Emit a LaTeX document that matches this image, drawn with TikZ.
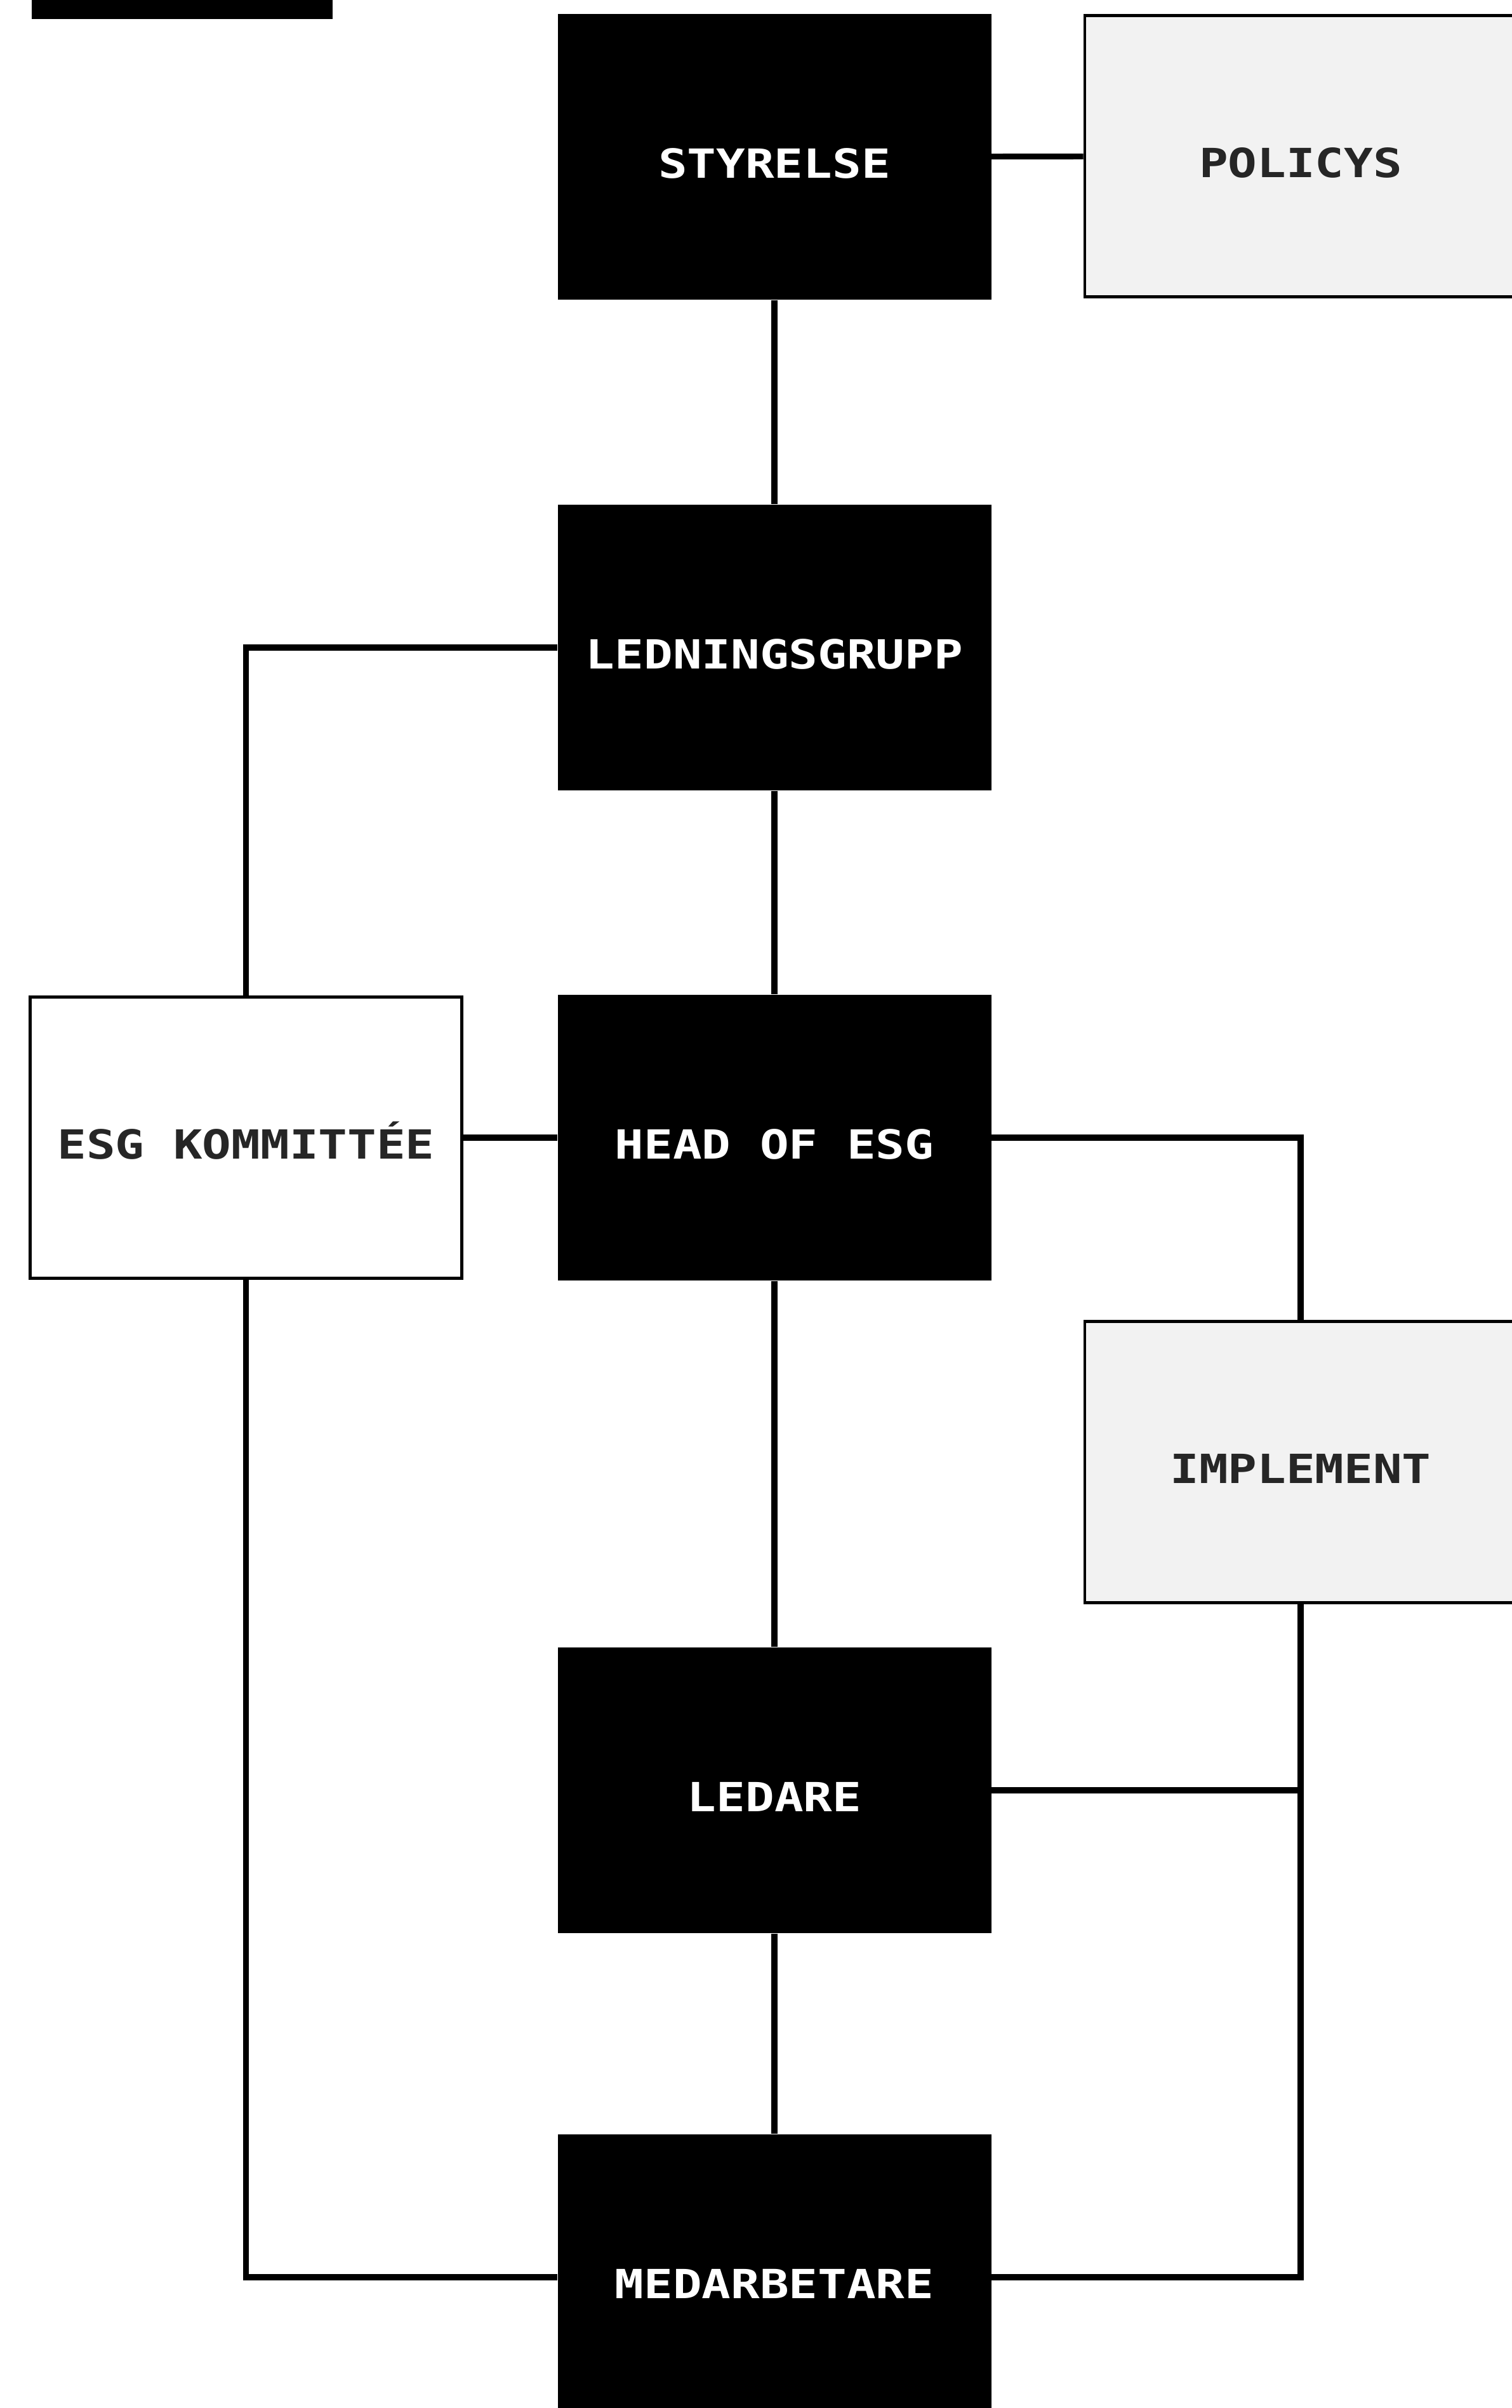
\documentclass[tikz,border=0pt]{standalone}
\usepackage{fontspec}
\newfontfamily\boxfont[FakeStretch=1.2]{DejaVu Sans Mono}

\begin{document}
\begin{tikzpicture}[
        boxtext/.style={inner sep=0pt, text height=0.66cm, text depth=0pt,
            font=\boxfont\bfseries\fontsize{18}{20}\selectfont},
        darkbox/.style={rectangle, boxtext, fill=black, text=white,
            minimum width=6.83cm, minimum height=4.5cm},
        lightbox/.style={rectangle, boxtext, draw=black, line width=1.3pt, fill=black!5,
            text=black!85, minimum width=6.8cm, minimum height=4.43cm},
        link/.style={line width=2.6pt}
    ]
                \useasboundingbox (0, 0) rectangle (23.82, -37.93);
                \clip (0, 0) rectangle (23.82, -37.93);

                % cut-off box in the corner
                \fill (0.5, 0.3) rectangle (5.24, -0.30);

                \node[darkbox] (styrelse) at (12.2, -2.47) {STYRELSE};
                \node[lightbox] (policys) at (20.49, -2.46) {POLICYS};
                \node[darkbox] (ledningsgrupp) at (12.2, -10.2) {LEDNINGSGRUPP};
                \node[lightbox, fill=white] (esg) at (3.875, -17.92) {ESG KOMMITTÉE};
                \node[darkbox] (head) at (12.2, -17.92) {HEAD OF ESG};
                \node[lightbox] (implement) at (20.49, -23.03) {IMPLEMENT};
                \node[darkbox] (ledare) at (12.2, -28.2) {LEDARE};
                \node[darkbox] (medarbetare) at (12.2, -35.87) {MEDARBETARE};

                \coordinate (ledjoin) at (ledare.east -| implement.south);

                \draw[link] (styrelse) -- (policys);
                \draw[link] (styrelse) -- (ledningsgrupp);
                \draw[link] (ledningsgrupp) -| (esg);
                \draw[link] (ledningsgrupp) -- (head);
                \draw[link] (esg) -- (head);
                \draw[link] (head) -| (implement);
                \draw[link] (head) -- (ledare);
                \draw[link] (ledare) -- (medarbetare);
                \draw[link] (ledare) -- (ledjoin);
                \draw[link] (implement) |- (medarbetare);
                \draw[link] (esg) |- (medarbetare);
            \end{tikzpicture}
\end{document}
